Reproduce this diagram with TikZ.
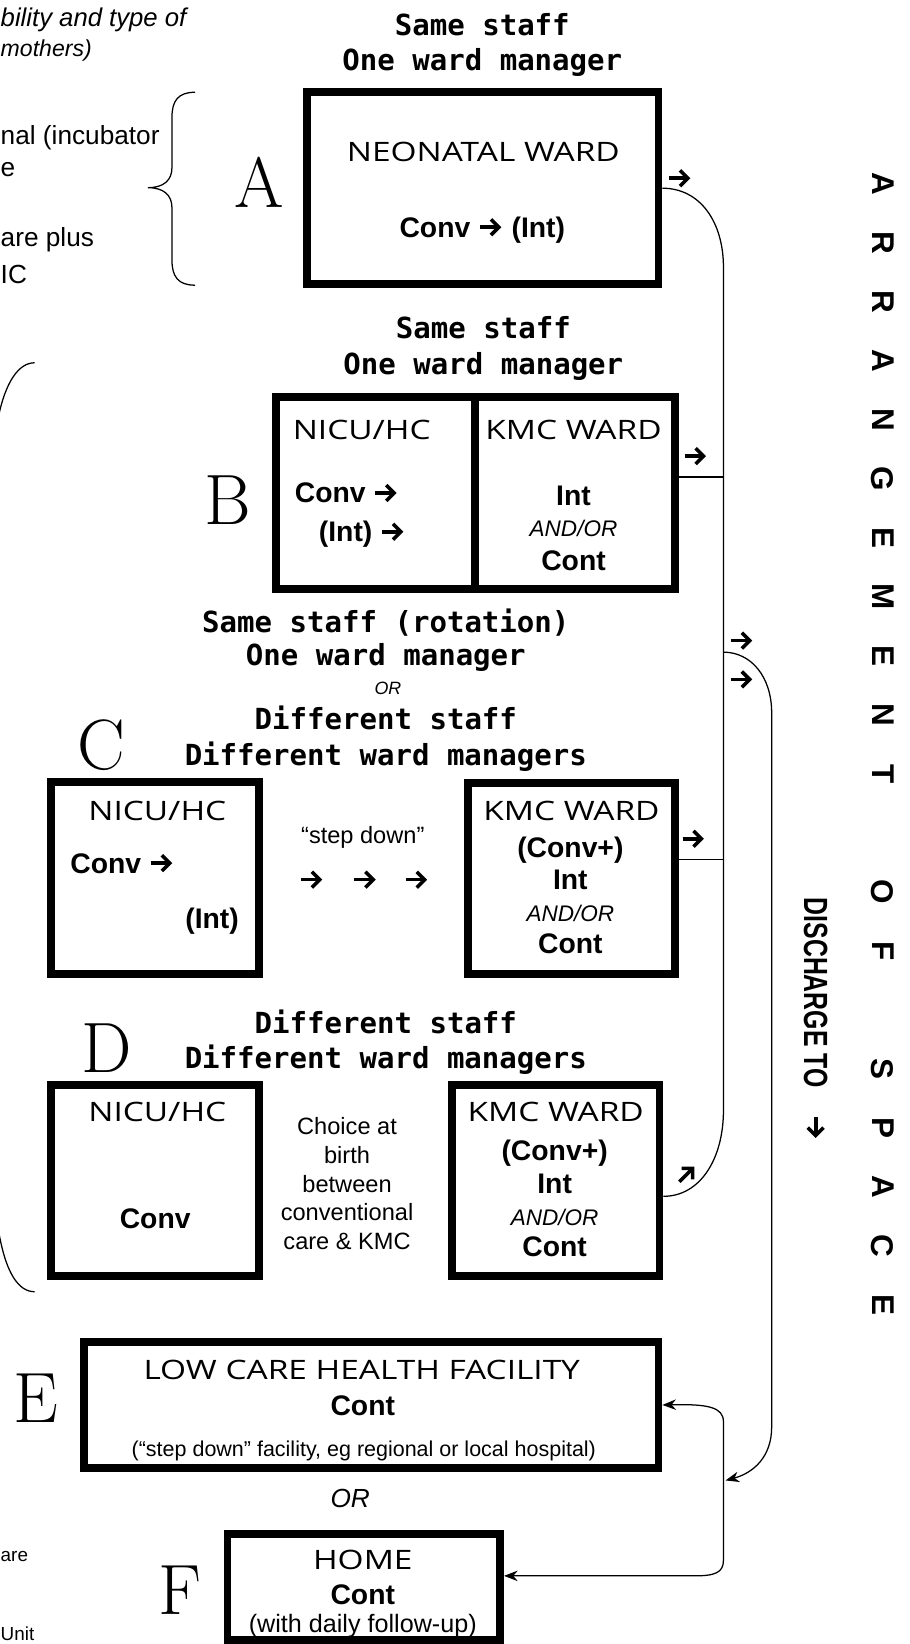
\documentclass[tikz,border=0pt]{standalone}
\usepackage{fontspec}
\usepackage{graphicx}
\usetikzlibrary{arrows.meta,calc}
\newfontfamily\arial{Liberation Sans}
\newfontfamily\mono{DejaVu Sans Mono}
\newfontfamily\comic{Open Sans}[FakeStretch=1.25]
\tikzset{warrow/.pic={
  \draw[line width=3.4pt, line cap=butt] (-10,0) -- (7,0);
  \draw[line width=3.4pt, line join=miter, line cap=butt] (0.5,-7.5) -- (8,0) -- (0.5,7.5);}}
\newcommand{\warr}{\tikz[x=1pt,y=1pt,baseline=-9.5pt]\pic{warrow};\kern3pt}
\begin{document}
\begin{tikzpicture}[x=1pt,y=-1pt,
  box/.style={draw, line width=7.5pt, inner sep=0pt},
  hd/.style={font=\mono\bfseries\fontsize{27.7}{33}\selectfont, inner sep=0pt, text height=20pt, text depth=0pt},
  lab/.style={font=\comic\fontsize{25.5}{30}\selectfont, inner sep=0pt, text height=18.2pt, text depth=0pt},
  bt/.style={font=\arial\bfseries\fontsize{27}{31}\selectfont, inner sep=0pt, text height=19.3pt, text depth=0pt},
  ao/.style={font=\arial\itshape\fontsize{21.5}{25}\selectfont, inner sep=0pt, text height=15.4pt, text depth=0pt},
  rt/.style={font=\arial\fontsize{22.5}{27.3}\selectfont, inner sep=0pt, align=center},
  big/.style={font=\fontsize{68}{72}\selectfont, inner sep=0pt, text height=46pt, text depth=0pt},
  side/.style={font=\arial\fontsize{25}{30}\selectfont, inner sep=0pt, anchor=west},
  conn/.style={line width=1.2pt},
  tip/.style={-{Stealth[length=13pt,width=10pt]}},
  vl/.style={font=\arial\bfseries\fontsize{30}{30}\selectfont, inner sep=0pt, rotate=-90}
]
\useasboundingbox (0,0) rectangle (867,1568);

% ---------- left margin fragments ----------
\node[side, font=\arial\itshape\fontsize{24.5}{28}\selectfont] (t1) at (0.5,19) {bility and type of};
\node[side, font=\arial\itshape\fontsize{22}{28}\selectfont] (t2) at (0.5,48) {mothers)};
\node[side] (t3) at (0.5,131) {nal (incubator};
\node[side] (t4) at (0.5,162) {e};
\node[side] (t5) at (0.5,229) {are plus};
\node[side] (t6) at (0.5,262) {IC};
\node[side, font=\arial\fontsize{18}{23}\selectfont] (t7) at (0.5,1485) {are};
\node[side, font=\arial\fontsize{18}{23}\selectfont] (t8) at (0.5,1558) {Unit};

% braces
\draw[conn] (186,88) .. controls (170,88) and (164,96) .. (164,112) -- (164,160)
  .. controls (164,172) and (156,179) .. (141,179)
  .. controls (156,179) and (164,186) .. (164,198) -- (164,248)
  .. controls (164,264) and (170,272) .. (186,272);
\draw[conn] (33,346) .. controls (18,346) and (5,364) .. (-2,400);
\draw[conn] (-2,1170) .. controls (5,1215) and (18,1232) .. (33,1232);

% ---------- A ----------
\node[hd] (hA1) at (460,24) {Same staff};
\node[hd] (hA2) at (460,57) {One ward manager};
\node[box, minimum width=335pt, minimum height=183pt] (boxA) at (460.5,179.5) {};
\node[lab] (lA) at (461,145) {NEONATAL WARD};
\node[bt] (tA) at (460,216.5) {Conv \warr{} (Int)};
\node[big] (LA) at (247,175) {A};
\pic (gA) at (648,170) {warrow};

% ---------- B ----------
\node[hd] (hB1) at (461,313) {Same staff};
\node[hd] (hB2) at (461,347) {One ward manager};
\node[box, minimum width=381pt, minimum height=183pt] (boxB) at (453.5,470.5) {};
\draw[line width=7.5pt] (453,379) -- (453,562);
\node[lab] (lB1) at (345,410) {NICU/HC};
\node[lab] (lB2) at (547,410) {KMC WARD};
\node[bt, anchor=west] (tB1) at (281,470) {Conv \warr};
\node[bt, anchor=west] (tB2) at (304,507) {(Int) \warr};
\node[bt] (tB3) at (547,472) {Int};
\node[ao] (tB4) at (547,504) {AND/OR};
\node[bt] (tB5) at (547,534) {Cont};
\node[big] (LB) at (217,477) {B};
\pic (gB) at (663,435) {warrow};

% ---------- C ----------
\node[hd] (hC1) at (368,593) {Same staff (rotation)};
\node[hd] (hC2) at (368,625) {One ward manager};
\node[ao, font=\arial\itshape\fontsize{17}{20}\selectfont, text height=12.2pt] (hC3) at (370,656) {OR};
\node[hd] (hC4) at (368,686) {Different staff};
\node[hd] (hC5) at (368,720) {Different ward managers};
\node[big] (LC) at (97,711) {C};
\node[box, minimum width=198pt, minimum height=183pt] (boxC1) at (148,837.5) {};
\node[lab] (lC1) at (150,773) {NICU/HC};
\node[bt, anchor=west] (tC1) at (67,823) {Conv \warr};
\node[bt, anchor=east] (tC2) at (228,876) {(Int)};
\node[rt] (sd) at (346,799) {“step down”};
\pic (sd1) at (297,839) {warrow};
\pic (sd2) at (348,839) {warrow};
\pic (sd3) at (397,839) {warrow};
\node[box, minimum width=198pt, minimum height=182pt] (boxC2) at (545,838) {};
\node[lab] (lC2) at (545,773) {KMC WARD};
\node[bt] (tC3) at (544,808) {(Conv+)};
\node[bt] (tC4) at (544,839) {Int};
\node[ao] (tC5) at (544,871) {AND/OR};
\node[bt] (tC6) at (544,900) {Cont};
\pic (gC) at (661,800) {warrow};

% ---------- D ----------
\node[hd] (hD1) at (368,976) {Different staff};
\node[hd] (hD2) at (368,1009) {Different ward managers};
\node[big] (LD) at (102,1000) {D};
\node[box, minimum width=198pt, minimum height=182pt] (boxD1) at (148,1126) {};
\node[lab] (lD1) at (150,1061) {NICU/HC};
\node[bt] (tD1) at (148,1162) {Conv};
\node[rt] (ch) at (331,1129) {Choice at\\birth\\between\\conventional\\care \& KMC};
\node[box, minimum width=198pt, minimum height=182pt] (boxD2) at (530,1126) {};
\node[lab] (lD2) at (530,1061) {KMC WARD};
\node[bt] (tD2) at (529,1097) {(Conv+)};
\node[bt] (tD3) at (529,1129) {Int};
\node[ao] (tD4) at (529,1161) {AND/OR};
\node[bt] (tD5) at (529,1189) {Cont};
\pic[rotate=45] (gD) at (655,1120) {warrow};

% ---------- E / F ----------
\node[big] (LE) at (34,1334) {E};
\node[box, minimum width=548pt, minimum height=120pt] (boxE) at (354,1340) {};
\node[lab] (lE) at (345,1307) {LOW CARE HEALTH FACILITY};
\node[bt] (tE) at (346,1340) {Cont};
\node[rt, font=\arial\fontsize{20.5}{24}\selectfont] (tE2) at (347,1384) {(“step down” facility, eg regional or local hospital)};
\node[ao, font=\arial\itshape\fontsize{25}{29}\selectfont, text height=17.9pt] (orE) at (334,1429) {OR};
\node[big] (LF) at (172,1517) {F};
\node[box, minimum width=260pt, minimum height=101pt] (boxF) at (347,1513.5) {};
\node[lab] (lF) at (346,1488) {HOME};
\node[bt] (tF) at (346,1521) {Cont};
\node[rt, font=\arial\fontsize{24}{26}\selectfont] (tF2) at (346,1551) {(with daily follow-up)};

% ---------- connectors ----------
\coordinate (s1) at (690,255);
\coordinate (s2) at (690,1059);
\coordinate (jB) at (690,455);
\coordinate (jC) at (690,820);
\coordinate (br) at (690,622);
\coordinate (dD) at ($(boxD2.east)+(0,15)$);
\coordinate (bB) at ($(boxB.east)+(0,-15.5)$);
\coordinate (cC) at ($(boxC2.east)+(0,-18)$);
\draw[conn] (boxA.east) .. controls (668,179.5) and (690,212) .. (s1) -- (s2)
  .. controls (690,1105) and (668,1141) .. (dD);
\draw[conn] (bB) -- (jB);
\draw[conn] (cC) -- (jC);
\pic (gR1) at (707,611) {warrow};
\pic (gR2) at (707,648) {warrow};
\coordinate (r1) at (736,680);
\coordinate (r2) at (736,1361);
\coordinate (tipR) at (692,1412);
\draw[conn, tip] (br) .. controls (716,622) and (736,645) .. (r1) -- (r2)
  .. controls (736,1390) and (718,1405) .. (tipR);
\coordinate (ef1) at (690,1356);
\coordinate (ef2) at (690,1488);
\coordinate (ef3) at (662,1503);
\coordinate (fF) at ($(boxF.east)+(0,-10.5)$);
\draw[conn, {Stealth[length=13pt,width=10pt]}-{Stealth[length=13pt,width=10pt]}]
  (boxE.east) .. controls (675,1339) and (690,1342) .. (ef1) -- (ef2)
  .. controls (690,1500) and (682,1503) .. (ef3) -- (fF);

% ---------- right side ----------
\foreach \L/\k in {A/0,R/1,R/2,A/3,N/4,G/5,E/6,M/7,E/8,N/9,T/10,O/12,F/13,S/15,P/16,A/17,C/18,E/19}
  \node[vl] (v\k) at (842,{175+56.3*\k}) {\L};
\node[rotate=-90, anchor=west, inner sep=0pt, font=\arial\bfseries\fontsize{32}{32}\selectfont] (dis) at (778,856)
  {\scalebox{0.74}[1]{DISCHARGE TO}};
\pic[rotate=-90] (gdis) at (778,1075) {warrow};
\end{tikzpicture}
\end{document}
